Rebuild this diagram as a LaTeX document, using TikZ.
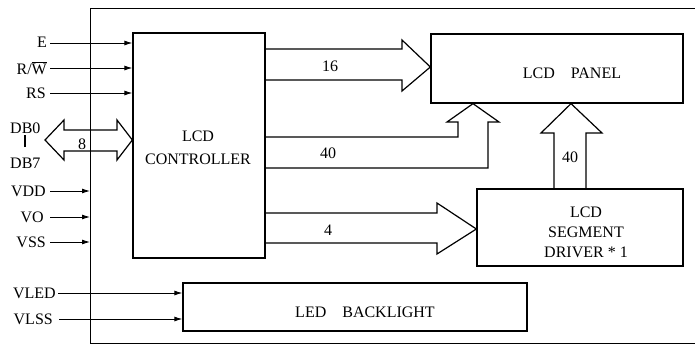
\documentclass[tikz,border=0pt]{standalone}
\usepackage{fontspec}
\setmainfont{Liberation Serif}
\usetikzlibrary{arrows.meta,calc}
\begin{document}
\begin{tikzpicture}[x=1pt,y=-1pt,
  every node/.style={inner sep=0pt,font=\fontsize{16}{20}\selectfont},
  blk/.style={draw,line width=1.3pt,rectangle},
  sig/.style={line width=0.9pt,-{Latex[length=8pt,width=5pt]}},
  barrow/.style={line width=1.2pt,line join=miter},
  frame/.style={line width=1pt}]
\useasboundingbox (0,0) rectangle (695,348);
% outer frame
\draw[frame] (695,8) -- (90,8) -- (90,343) -- (695,343);
% boxes
\node[blk,minimum width=132pt,minimum height=225pt] (ctrl) at (199,145.5) {};
\node[blk,minimum width=252pt,minimum height=69pt] (panel) at (557,68.5) {};
\node[blk,minimum width=206pt,minimum height=77pt] (drv) at (580,227.5) {};
\node[blk,minimum width=344pt,minimum height=48pt] (led) at (355,307) {};
% box texts
\node[align=center] (ctrltxt) at (198,148) {LCD\\[3pt]CONTROLLER};
\node (paneltxt) at (572,73) {LCD\quad PANEL};
\node[align=center] (drvtxt) at (586,232) {LCD\\SEGMENT\\DRIVER * 1};
\node (ledtxt) at (365,312) {LED\quad BACKLIGHT};
% left labels
\node[anchor=east] (lE) at (47,42) {E};
\node[anchor=east] (lRW) at (47,68) {R/$\overline{\mbox{W}}$};
\node[anchor=east] (lRS) at (46,93) {RS};
\node[anchor=west] (lDB0) at (10,128) {DB0};
\node (lbar) at (25,141) {\rule{1.2pt}{12pt}};
\node[anchor=west] (lDB7) at (10,163) {DB7};
\node[anchor=east] (lVDD) at (46,191) {VDD};
\node[anchor=east] (lVO) at (44,217) {VO};
\node[anchor=east] (lVSS) at (46,242) {VSS};
\node[anchor=east] (lVLED) at (56,293) {VLED};
\node[anchor=east] (lVLSS) at (53,319) {VLSS};
% frame coordinate
\coordinate (fr) at (90,200);
% signal arrows
\draw[sig] (50,43) -- (ctrl.west |- 0,43);
\draw[sig] ([xshift=3pt]lRW.east |- 0,68) -- (ctrl.west |- 0,68);
\draw[sig] ([xshift=4pt]lRS.east) -- (lRS.east -| ctrl.west);
\draw[sig] ([xshift=4pt]lVDD.east) -- (lVDD.east -| fr);
\draw[sig] ([xshift=6pt]lVO.east) -- (lVO.east -| fr);
\draw[sig] ([xshift=4pt]lVSS.east) -- (lVSS.east -| fr);
\draw[sig] ([xshift=2pt]lVLED.east) -- (lVLED.east -| led.west);
\draw[sig] ([xshift=6pt]lVLSS.east) -- (lVLSS.east -| led.west);
% DB double arrow
\draw[barrow] (45,140) -- (64,120) -- (64,130) -- (117,130) -- (117,120) -- (ctrl.west |- 0,140)
  -- (117,160) -- (117,151) -- (64,151) -- (64,160) -- cycle;
\node (n8) at (82,144) {8};
% 16 arrow to panel
\draw[barrow] (ctrl.east |- 0,49) -- (402,49) -- (402,40) -- (panel.west |- 0,67) -- (402,91) -- (402,80) -- (ctrl.east |- 0,80);
\node (n16) at (330,66) {16};
% bent 40 arrow to panel
\draw[barrow] (ctrl.east |- 0,137) -- (458,137) -- (458,122) -- (447,122) -- (473,0 |- panel.south) -- (499,122) -- (488,122) -- (488,168) -- (ctrl.east |- 0,168);
\node (n40a) at (328,153) {40};
% vertical 40 arrow from driver to panel
\draw[barrow] (554,0 |- drv.north) -- (554,133) -- (541,133) -- (571,0 |- panel.south) -- (602,133) -- (586,133) -- (586,0 |- drv.north);
\node (n40b) at (570,157) {40};
% 4 arrow to driver
\draw[barrow] (ctrl.east |- 0,213) -- (437,213) -- (437,203) -- (drv.west |- 0,229) -- (437,254) -- (437,243) -- (ctrl.east |- 0,243);
\node (n4) at (328,230) {4};
\end{tikzpicture}
\end{document}
